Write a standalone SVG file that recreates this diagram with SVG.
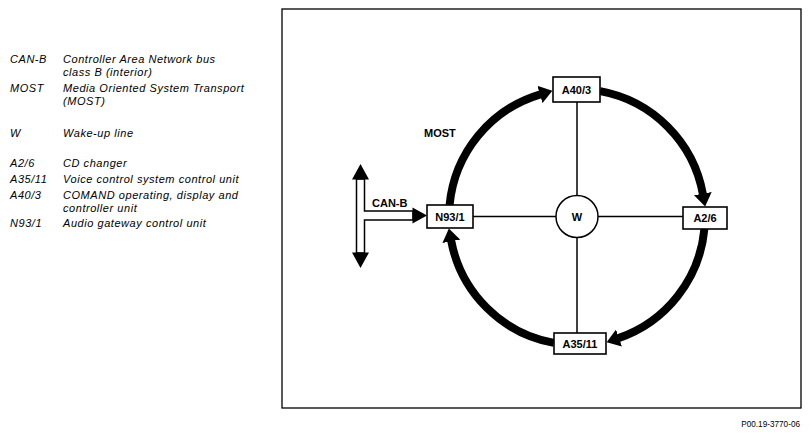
<svg xmlns="http://www.w3.org/2000/svg" width="811" height="437" viewBox="0 0 811 437">
<style>
.leg{font-family:"Liberation Sans",Arial,sans-serif;font-size:11px;letter-spacing:0.55px;font-style:italic;fill:#000}
.lbl{font-family:"Liberation Sans",Arial,sans-serif;font-size:11px;font-weight:bold;fill:#000;text-anchor:middle}
.tag{font-family:"Liberation Sans",Arial,sans-serif;font-size:11px;font-weight:bold;fill:#000}
.box{fill:#fff;stroke:#000;stroke-width:1.6}
.wire{stroke:#000;stroke-width:1.5;fill:none}
.ring{stroke:#000;stroke-width:8;fill:none;marker-end:url(#ah)}
</style>
<defs>
<marker id="ah" markerUnits="userSpaceOnUse" markerWidth="14" markerHeight="18" viewBox="0 0 14 18" refX="0.5" refY="9" orient="auto">
<path d="M0,0 L13,9 L0,18 Z" fill="#000"/>
</marker>
</defs>
<rect width="811" height="437" fill="#fff"/>
<g id="legend">
<text class="leg" x="10" y="63">CAN-B</text><text class="leg" x="63" y="63">Controller Area Network bus</text>
<text class="leg" x="63" y="75.5">class B (interior)</text>
<text class="leg" x="10" y="92">MOST</text><text class="leg" x="63" y="92">Media Oriented System Transport</text>
<text class="leg" x="63" y="105">(MOST)</text>
<text class="leg" x="10" y="137">W</text><text class="leg" x="63" y="137">Wake-up line</text>
<text class="leg" x="10" y="167">A2/6</text><text class="leg" x="63" y="167">CD changer</text>
<text class="leg" x="10" y="183">A35/11</text><text class="leg" x="63" y="183">Voice control system control unit</text>
<text class="leg" x="10" y="199">A40/3</text><text class="leg" x="63" y="199">COMAND operating, display and</text>
<text class="leg" x="63" y="211.5">controller unit</text>
<text class="leg" x="10" y="227">N93/1</text><text class="leg" x="63" y="227">Audio gateway control unit</text>
</g>
<rect id="frame" x="282" y="9" width="519" height="399" fill="none" stroke="#000" stroke-width="1.3"/>
<g id="connectors">
<line class="wire" x1="577" y1="102" x2="577" y2="195.5"/>
<line class="wire" x1="577" y1="237.5" x2="577" y2="333"/>
<line class="wire" x1="473" y1="216.5" x2="556" y2="216.5"/>
<line class="wire" x1="598" y1="216.5" x2="683" y2="216.5"/>
<path class="ring" d="M449.6,205 A128,128 0 0 1 540.4,94.3"/>
<path class="ring" d="M600.1,91.1 A128,128 0 0 1 702.9,194.1"/>
<path class="ring" d="M704.4,229 A128,128 0 0 1 618.5,338.1"/>
<path class="ring" d="M553.9,342.9 A128,128 0 0 1 451.2,240.8"/>
<g id="can-b">
<path d="M356.5,179 L364.5,179 L364.5,211 L413,211 L413,220 L364.5,220 L364.5,253 L356.5,253 Z" fill="#fff" stroke="#000" stroke-width="1.5"/>
<path d="M360.5,164 L369,179.5 L352,179.5 Z M360.5,268 L369,252.5 L352,252.5 Z M427,215.5 L412.5,207.5 L412.5,223.5 Z" fill="#000"/>
<text class="tag" x="372" y="207">CAN-B</text>
</g>
<text class="tag" x="424" y="137">MOST</text>
</g>
<g id="A40_3"><rect class="box" x="553" y="77" width="47" height="25"/><text class="lbl" x="576.5" y="93.5">A40/3</text></g>
<g id="A2_6"><rect class="box" x="683" y="207" width="44" height="22"/><text class="lbl" x="705" y="222">A2/6</text></g>
<g id="A35_11"><rect class="box" x="554" y="333" width="52" height="21"/><text class="lbl" x="580" y="347.5">A35/11</text></g>
<g id="N93_1"><rect class="box" x="427" y="205" width="46" height="23"/><text class="lbl" x="450" y="220.5">N93/1</text></g>
<g id="W"><circle cx="577" cy="216.5" r="21" fill="#fff" stroke="#000" stroke-width="1.5"/><text class="lbl" x="577" y="220.5">W</text></g>
<text id="code" x="800" y="427" font-family="'Liberation Sans',Arial,sans-serif" font-size="8.2px" text-anchor="end">P00.19-3770-06</text>
</svg>
